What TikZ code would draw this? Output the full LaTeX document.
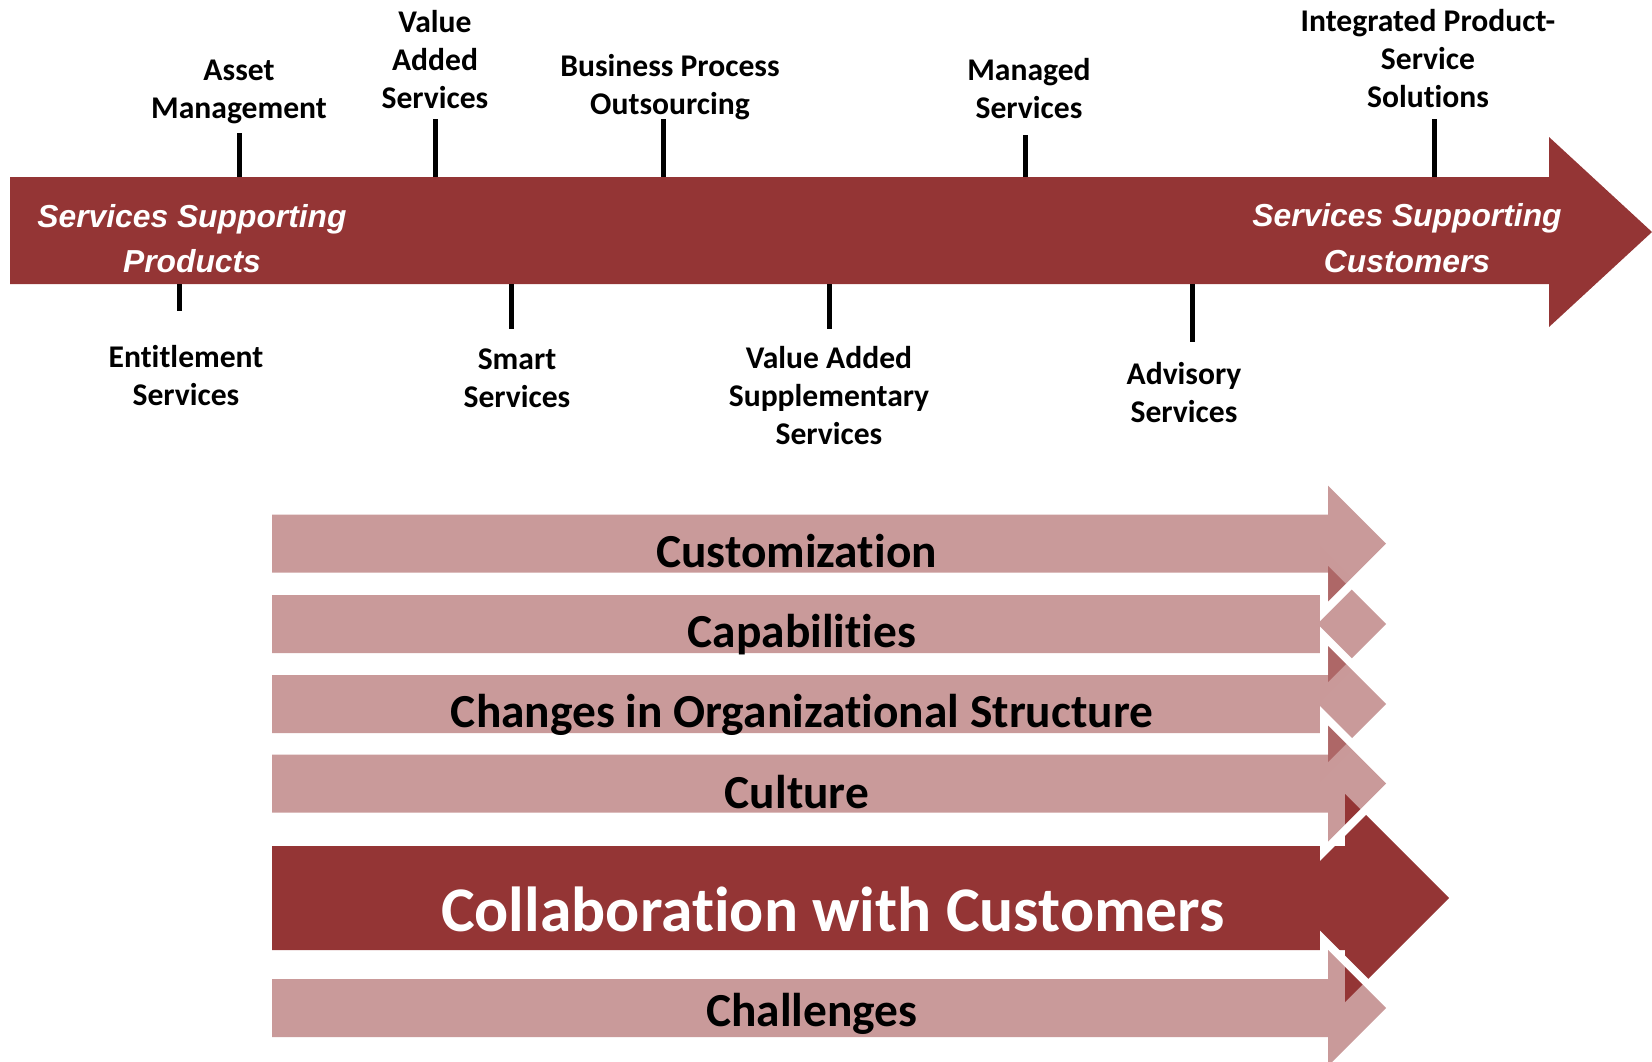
\documentclass[tikz,border=0pt]{standalone}
\usepackage{fontspec}
\setmainfont{Carlito}[Ligatures=NoCommon]
\newfontfamily\arialfont{Liberation Sans}
\usetikzlibrary{positioning}
\definecolor{wine}{HTML}{943535}

% arrow band: left x, head base x, centre y, half height
\newcommand{\bandpath}[4]{(#1,#3-#4) -- (#2,#3-#4) -- (#2,#3-2*#4) -- (#2+2*#4,#3)
  -- (#2,#3+2*#4) -- (#2,#3+#4) -- (#1,#3+#4) -- cycle}
% light band with a white rim outside only
\newcommand{\pinkband}[1]{%
  \begin{scope}[even odd rule]
    \clip (-100,-100) rectangle (1800,1200) \bandpath{272}{1328}{#1}{29};
    \draw[white, line width=8pt] \bandpath{272}{1328}{#1}{29};
  \end{scope}
  \fill[wine, fill opacity=0.5] \bandpath{272}{1328}{#1}{29};}

\begin{document}
\begin{tikzpicture}[x=0.5pt, y=-0.5pt]
\tikzset{
  lbl/.style={font=\fontsize{15.8}{19.2}\selectfont\bfseries, align=center, anchor=base, inner sep=0pt},
  maintxt/.style={font=\arialfont\fontsize{15.9}{22.75}\selectfont\bfseries\itshape, text=white, align=center, anchor=base, inner sep=0pt},
  bandtxt/.style={font=\fontsize{23.7}{28}\selectfont\bfseries, anchor=base, inner sep=0pt},
  tick/.style={line width=2.5pt}
}
\useasboundingbox (0,0) rectangle (1652,1061);
% main arrow
\fill[wine] (10,177) -- (1549,177) -- (1549,137) -- (1652,232) -- (1549,327) -- (1549,284) -- (10,284) -- cycle;
\coordinate (bartop) at (0,177);
\coordinate (barbot) at (0,284);
\node[maintxt] (prod) at (192,272.5) {Services Supporting\\Products};
\node[maintxt] (cust) at (1407,272) {Services Supporting\\Customers};
% labels above
\node[lbl] (asset) at (239,118.9) {Asset\\Management};
\node[lbl] (vas) at (435,108.8) {Value\\Added\\Services};
\node[lbl] (bpo) at (670,114.4) {Business Process\\Outsourcing};
\node[lbl] (man) at (1029,118.9) {Managed\\Services};
\node[lbl] (ipss) at (1428,107.8) {Integrated Product-\\Service\\Solutions};
% labels below
\node[lbl] (ent) at (186,405.4) {Entitlement\\Services};
\node[lbl] (smart) at (517,407.4) {Smart\\Services};
\node[lbl] (vass) at (829,444.8) {Value Added\\Supplementary\\Services};
\node[lbl] (adv) at (1184,422.4) {Advisory\\Services};
% ticks
\coordinate (assetT) at (239,133);
\coordinate (vasT) at (435,119);
\coordinate (bpoT) at (663,119);
\coordinate (manT) at (1025,135);
\coordinate (ipssT) at (1434,119);
\coordinate (entB) at (179,311);
\coordinate (smartB) at (511,329);
\coordinate (vassB) at (829,329);
\coordinate (advB) at (1192,342);
\foreach \t in {assetT,vasT,bpoT,manT,ipssT}
  \draw[tick] (\t) -- (\t |- bartop);
\foreach \b in {entB,smartB,vassB,advB}
  \draw[tick] (\b |- barbot) -- (\b);
% lower bands
\pinkband{624}
\pinkband{543.7}
\pinkband{704}
\fill[wine] \bandpath{272}{1345}{898}{52};
\pinkband{783.5}
\pinkband{1008}
\node[bandtxt] (cz) at (796.5,567.7) {Customization};
\node[bandtxt] (cap) at (802,647.7) {Capabilities};
\node[bandtxt] (chg) at (802,727.7) {Changes in Organizational Structure};
\node[bandtxt] (cul) at (797,808) {Culture};
\node[bandtxt, text=white, font=\fontsize{31.8}{38}\selectfont\bfseries] (col) at (833,931) {Collaboration with Customers};
\node[bandtxt] (chl) at (812,1026.7) {Challenges};
\end{tikzpicture}
\end{document}
